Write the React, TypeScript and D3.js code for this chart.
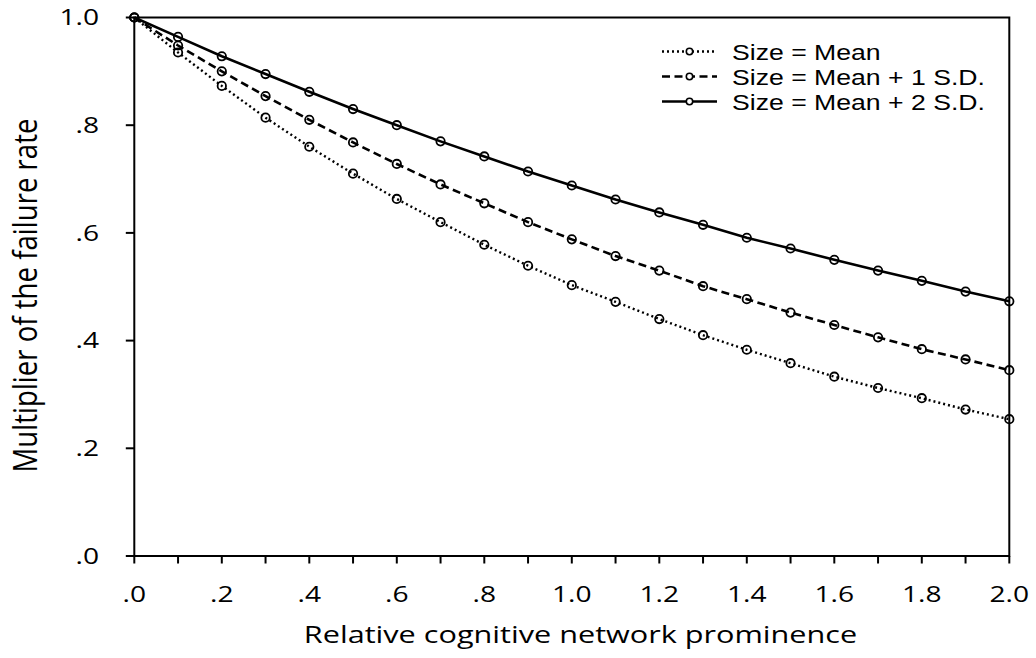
import React from "react";
import * as d3 from "d3";

// Relative cognitive network prominence (x) and failure-rate multipliers by size level
const prominence = [0, 0.1, 0.2, 0.3, 0.4, 0.5, 0.6, 0.7, 0.8, 0.9, 1.0, 1.1, 1.2, 1.3, 1.4, 1.5, 1.6, 1.7, 1.8, 1.9, 2.0];
const sizeMean = [1.0, 0.935, 0.873, 0.814, 0.76, 0.71, 0.663, 0.62, 0.578, 0.539, 0.503, 0.472, 0.44, 0.41, 0.383, 0.358, 0.333, 0.312, 0.293, 0.272, 0.254];
const sizeMean1SD = [1.0, 0.948, 0.9, 0.854, 0.81, 0.768, 0.728, 0.69, 0.655, 0.62, 0.588, 0.557, 0.53, 0.501, 0.477, 0.452, 0.429, 0.406, 0.384, 0.365, 0.345];
const sizeMean2SD = [1.0, 0.964, 0.928, 0.895, 0.862, 0.83, 0.8, 0.77, 0.742, 0.714, 0.688, 0.662, 0.638, 0.615, 0.591, 0.571, 0.55, 0.53, 0.511, 0.491, 0.473];

const seriesLabels = ["Size = Mean", "Size = Mean + 1 S.D.", "Size = Mean + 2 S.D."];
const xTickValues = [0, 0.2, 0.4, 0.6, 0.8, 1.0, 1.2, 1.4, 1.6, 1.8, 2.0];
const xMinorTickValues = [0, 0.1, 0.2, 0.3, 0.4, 0.5, 0.6, 0.7, 0.8, 0.9, 1.0, 1.1, 1.2, 1.3, 1.4, 1.5, 1.6, 1.7, 1.8, 1.9, 2.0];
const yTickValues = [0, 0.2, 0.4, 0.6, 0.8, 1.0];
const xTitle = "Relative cognitive network prominence";
const yTitle = "Multiplier of the failure rate";

const W = 1036;
const H = 658;
const plot = { left: 134.3, right: 1009.3, top: 17.5, bottom: 556 };
const FONT = "'Open Sans', 'DejaVu Sans', sans-serif";
const LEGEND_FONT = "'Liberation Sans', Arial, sans-serif";

const fmt = (v: number) => d3.format(".1f")(v).replace(/^0\./, ".");

const styles = [
  { dash: "2,3", width: 2.4 },
  { dash: "8,4.5", width: 2.6 },
  { dash: null as string | null, width: 2.6 },
];

export default function App() {
  const x = d3.scaleLinear().domain([0, 2]).range([plot.left, plot.right]);
  const y = d3.scaleLinear().domain([0, 1]).range([plot.bottom, plot.top]);
  const line = d3
    .line<number>()
    .x((_, i) => x(prominence[i]))
    .y((d) => y(d));

  const series = [sizeMean, sizeMean1SD, sizeMean2SD];

  const legendX0 = 662;
  const legendX1 = 717;
  const legendTextX = 732;
  const legendBaselines = [60, 85, 110];

  return (
    <svg
      width={W}
      height={H}
      viewBox={`0 0 ${W} ${H}`}
      style={{ position: "absolute", left: 0, top: 0, background: "#fff" }}
      fontFamily={FONT}
    >
      <rect x={0} y={0} width={W} height={H} fill="#fff" />

      {/* series lines */}
      {series.map((s, k) => (
        <path
          key={`l${k}`}
          d={line(s) || ""}
          fill="none"
          stroke="#000"
          strokeWidth={styles[k].width}
          strokeDasharray={styles[k].dash || undefined}
        />
      ))}
      {/* series markers */}
      {series.map((s, k) =>
        s.map((v, i) => (
          <circle
            key={`m${k}-${i}`}
            cx={x(prominence[i])}
            cy={y(v)}
            r={4.2}
            fill="none"
            stroke="#000"
            strokeWidth={1.8}
          />
        ))
      )}

      {/* frame */}
      <rect
        x={plot.left}
        y={plot.top}
        width={plot.right - plot.left}
        height={plot.bottom - plot.top}
        fill="none"
        stroke="#000"
        strokeWidth={2}
      />

      {/* x ticks */}
      {xMinorTickValues.map((t) => (
        <line key={`xt${t}`} x1={x(t)} x2={x(t)} y1={plot.bottom} y2={plot.bottom + 7.5} stroke="#000" strokeWidth={2} />
      ))}
      {xTickValues.map((t) => (
        <text
          key={`xl${t}`}
          transform={`translate(${x(t)},602) scale(1.28,1)`}
          textAnchor="middle"
          fontSize={22}
          fill="#000"
        >
          {fmt(t)}
        </text>
      ))}

      {/* y ticks */}
      {yTickValues.map((t) => (
        <line key={`yt${t}`} x1={plot.left - 8.5} x2={plot.left} y1={y(t)} y2={y(t)} stroke="#000" strokeWidth={2} />
      ))}
      {yTickValues.map((t) => (
        <text
          key={`yl${t}`}
          transform={`translate(99,${y(t) + 7.8}) scale(1.28,1)`}
          textAnchor="end"
          fontSize={22}
          fill="#000"
        >
          {fmt(t)}
        </text>
      ))}

      {/* axis titles */}
      <text transform={`translate(580.5,643) scale(1.31,1)`} textAnchor="middle" fontSize={23.4} fill="#000">
        {xTitle}
      </text>
      <text
        transform={`translate(37,295.5) scale(1.2,1) rotate(-90)`}
        textAnchor="middle"
        fontSize={27.6}
        fill="#000"
      >
        {yTitle}
      </text>

      {/* legend */}
      {seriesLabels.map((lab, k) => {
        const cy = legendBaselines[k] - 8.5;
        return (
          <g key={`lg${k}`}>
            <line
              x1={legendX0}
              x2={legendX1}
              y1={cy}
              y2={cy}
              stroke="#000"
              strokeWidth={styles[k].width}
              strokeDasharray={styles[k].dash || undefined}
            />
            <circle cx={(legendX0 + legendX1) / 2} cy={cy} r={3.2} fill="#fff" stroke="#000" strokeWidth={1.6} />
            <text
              transform={`translate(${legendTextX},${legendBaselines[k]}) scale(1.21,1)`}
              fontFamily={LEGEND_FONT}
              fontSize={22}
              fill="#000"
            >
              {lab}
            </text>
          </g>
        );
      })}
    </svg>
  );
}
